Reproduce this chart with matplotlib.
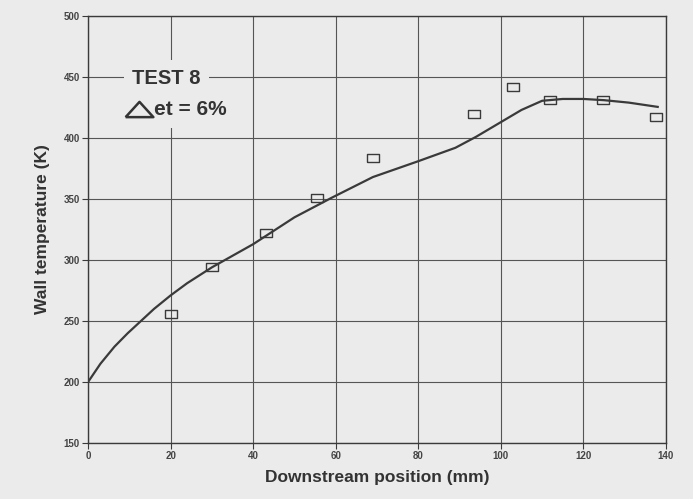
import numpy as np
import matplotlib.pyplot as plt

# measured wall temperatures (squares)
meas_x = [20, 30, 43, 55.5, 69, 93.5, 103, 112, 124.8, 137.6]
meas_y = [255.5, 294, 322.5, 350.5, 383.5, 419.5, 442, 431, 431, 417]

# computed curve
curve_x = [0, 3, 6.4, 9.6, 12.8, 16, 20, 24, 30, 40, 50, 59, 69, 80, 89, 94, 100, 105, 110, 115, 120, 125, 131, 138]
curve_y = [200, 215, 229, 240, 250, 260, 271, 281, 294, 313, 335, 351, 368, 381, 392, 401, 413, 423, 430.5, 432, 432, 431, 429, 425.5]

xticks = [0, 20, 40, 60, 80, 100, 120, 140]
yticks = [150, 200, 250, 300, 350, 400, 450, 500]

bg = '#ebebeb'
ink = '#3a3a3a'
plt.rcParams['font.family'] = ['Liberation Sans', 'DejaVu Sans']

fig = plt.figure(figsize=(6.93, 4.99), dpi=100, facecolor=bg)
ax = fig.add_axes([0.127, 0.112, 0.834, 0.856])
ax.set_facecolor(bg)

ax.plot(curve_x, curve_y, color=ink, lw=1.6, zorder=3)
rect = [(-1, -0.6), (1, -0.6), (1, 0.6), (-1, 0.6), (-1, -0.6)]
ax.plot(meas_x, meas_y, linestyle='none', marker=rect, markersize=9,
        markerfacecolor='none', markeredgecolor=ink, markeredgewidth=1.0, zorder=4)

ax.set_xlim(0, 140)
ax.set_ylim(150, 500)
ax.set_xticks(xticks)
ax.set_yticks(yticks)
ax.grid(True, color='#555555', lw=0.8)
ax.set_axisbelow(True)
for s in ax.spines.values():
    s.set_color(ink)
    s.set_linewidth(1.0)
ax.tick_params(length=4, width=0.8, color=ink, labelsize=7, labelcolor='#444444', pad=2)
for lab in ax.get_xticklabels() + ax.get_yticklabels():
    lab.set_fontweight('bold')

ax.set_xlabel('Downstream position (mm)', fontsize=12.5, fontweight='bold', color='#333333', labelpad=6)
ax.set_ylabel('Wall temperature (K)', fontsize=12.5, fontweight='bold', color='#333333', labelpad=10)

# legend-like annotation
ax.text(10.6, 449, 'TEST 8', fontsize=14.5, fontweight='bold', color='#333333', va='center', ha='left',
        bbox=dict(facecolor=bg, edgecolor='none', pad=6), zorder=5)
ax.text(16.0, 423, 'et = 6%', fontsize=15, fontweight='bold', color='#333333', va='center', ha='left',
        bbox=dict(facecolor=bg, edgecolor='none', pad=6), zorder=5)
tri = [(-1, -0.55), (1, -0.55), (0, 0.55), (-1, -0.55)]
ax.plot([12.4], [423.6], marker=tri, markersize=20, markerfacecolor='none',
        markeredgecolor='#333333', markeredgewidth=1.8, linestyle='none', zorder=6)

plt.savefig('out.png', dpi=100, facecolor=bg)
